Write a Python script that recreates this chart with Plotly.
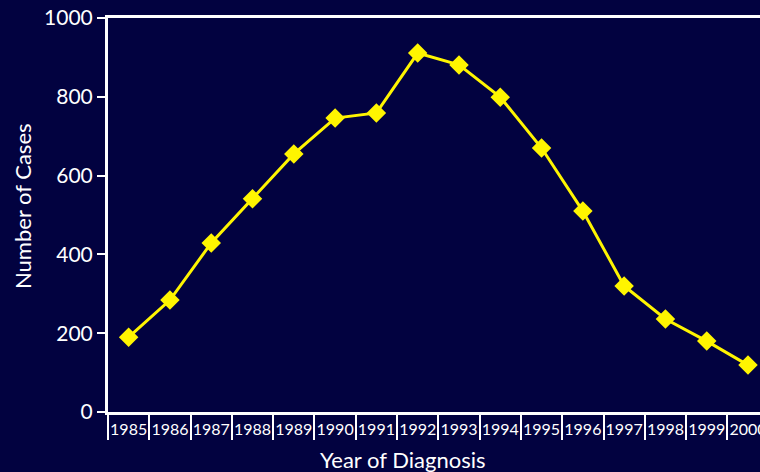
import plotly.graph_objects as go

years = ["1985", "1986", "1987", "1988", "1989", "1990", "1991", "1992",
         "1993", "1994", "1995", "1996", "1997", "1998", "1999", "2000"]
cases = [190, 284, 429, 541, 655, 746, 759, 911,
         881, 799, 670, 510, 320, 236, 180, 119]
y_ticks = [0, 200, 400, 600, 800, 1000]
x_title = "Year of Diagnosis"
y_title = "Number of Cases"

bg = "#020240"
font_family = "Lato, 'Open Sans', sans-serif"

fig = go.Figure()
fig.add_trace(go.Scatter(
    x=years, y=cases, mode="lines+markers",
    line=dict(color="#FFF500", width=3),
    marker=dict(symbol="diamond", size=15, color="#FFF500"),
    cliponaxis=False,
))

fig.update_layout(
    width=760, height=472,
    paper_bgcolor=bg, plot_bgcolor=bg,
    margin=dict(l=108, r=0, t=18, b=60, autoexpand=False),
    showlegend=False,
    font=dict(family=font_family, color="white"),
    xaxis=dict(
        type="category",
        range=[-0.5, 15.29],
        tickson="boundaries",
        ticks="outside", ticklen=25, tickwidth=1.5, tickcolor="white",
        tickangle=0,
        ticklabelstandoff=1,
        tickfont=dict(size=16, color="white"),
        showline=True, linecolor="white", linewidth=3, mirror=True,
        showgrid=False, zeroline=False, automargin=False,
    ),
    yaxis=dict(
        range=[0, 1000],
        tickvals=y_ticks,
        ticks="outside", ticklen=8, tickwidth=2, tickcolor="white",
        tickfont=dict(size=21, color="white"),
        showline=True, linecolor="white", linewidth=3,
        showgrid=False, zeroline=False, automargin=False,
    ),
    annotations=[
        dict(text=x_title, xref="paper", yref="paper", x=(402 - 108) / 652, y=-47 / 394,
             xanchor="center", yanchor="middle", showarrow=False,
             font=dict(size=22, color="white")),
        dict(text=y_title, xref="paper", yref="paper", x=-86 / 652, y=(412 - 206) / 394,
             xanchor="center", yanchor="middle", showarrow=False, textangle=-90,
             font=dict(size=22, color="white")),
    ],
)

fig.write_html(
    "out.html",
    config={"displayModeBar": False},
    post_script="document.body.style.margin='0';document.body.style.background='#020240';",
)
